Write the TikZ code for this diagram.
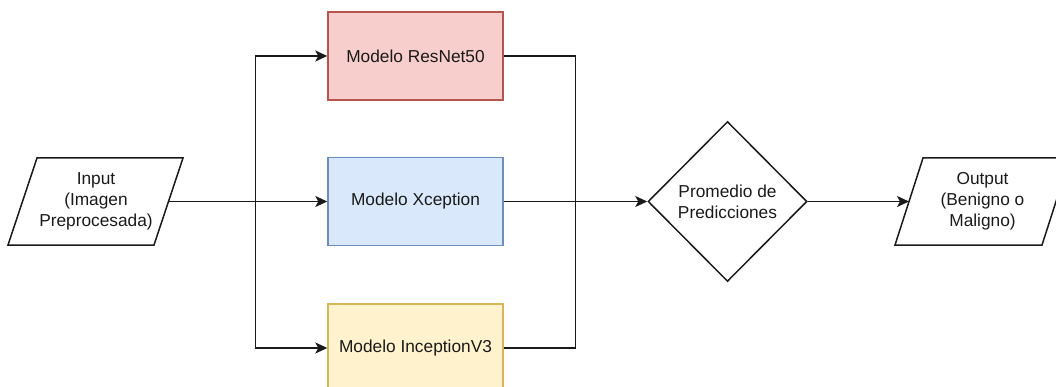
\documentclass[tikz,border=0pt]{standalone}
\usepackage{fontspec}
\setmainfont{Liberation Sans}
\usetikzlibrary{arrows.meta,shapes.geometric}
\definecolor{redfill}{HTML}{F8CECC}
\definecolor{redline}{HTML}{B85450}
\definecolor{bluefill}{HTML}{DAE8FC}
\definecolor{blueline}{HTML}{6C8EBF}
\definecolor{yelfill}{HTML}{FFF2CC}
\definecolor{yelline}{HTML}{D6B656}
\definecolor{ink}{HTML}{1A1A1A}
\tikzset{
  every node/.style={font=\fontsize{17.3}{21}\selectfont, text=ink, align=center},
  model/.style={draw, line width=1.4pt, minimum width=175pt, minimum height=88pt, inner sep=0pt},
  outline/.style={draw=ink, line width=1.5pt, line join=miter},
  link/.style={draw=ink, line width=1.5pt},
  arrow/.style={link, -{Stealth[length=12pt,width=11pt,inset=3pt]}},
}
\begin{document}
\begin{tikzpicture}[x=1pt,y=-1pt]
  \useasboundingbox (0,0) rectangle (1056,387);

  % input parallelogram
  \draw[outline] (37,158) -- (183,158) -- (154,245) -- (8,245) -- cycle;
  \node (input) at (96,201.5) {Input\\(Imagen\\Preprocesada)};
  \coordinate (inout) at (168.5,201.5);

  % the three models
  \node[model, fill=redfill, draw=redline] (resnet) at (415.5,56) {Modelo ResNet50};
  \node[model, fill=bluefill, draw=blueline] (xcep) at (415.5,201.5) {Modelo Xception};
  \node[model, fill=yelfill, draw=yelline] (incep) at (415.5,348) {Modelo InceptionV3};

  % averaging step
  \node[diamond, outline, minimum width=159pt, minimum height=160pt, inner sep=0pt] (avg) at (727.5,201.5) {Promedio de\\Predicciones};

  % output parallelogram
  \draw[outline] (923,158) -- (1070,158) -- (1042,245) -- (895,245) -- cycle;
  \node (output) at (982.5,201.5) {Output\\(Benigno o\\Maligno)};
  \coordinate (outin) at (909,201.5);

  % fan-out from the input
  \coordinate (split) at (255.5,201.5);
  \draw[arrow] (inout) -- (xcep.west);
  \draw[arrow] (split) |- (resnet.west);
  \draw[arrow] (split) |- (incep.west);

  % fan-in to the average
  \coordinate (merge) at (575.5,201.5);
  \draw[arrow] (xcep.east) -- (avg.west);
  \draw[link] (resnet.east) -| (merge);
  \draw[link] (incep.east) -| (merge);

  % result
  \draw[arrow] (avg.east) -- (outin);
\end{tikzpicture}
\end{document}
